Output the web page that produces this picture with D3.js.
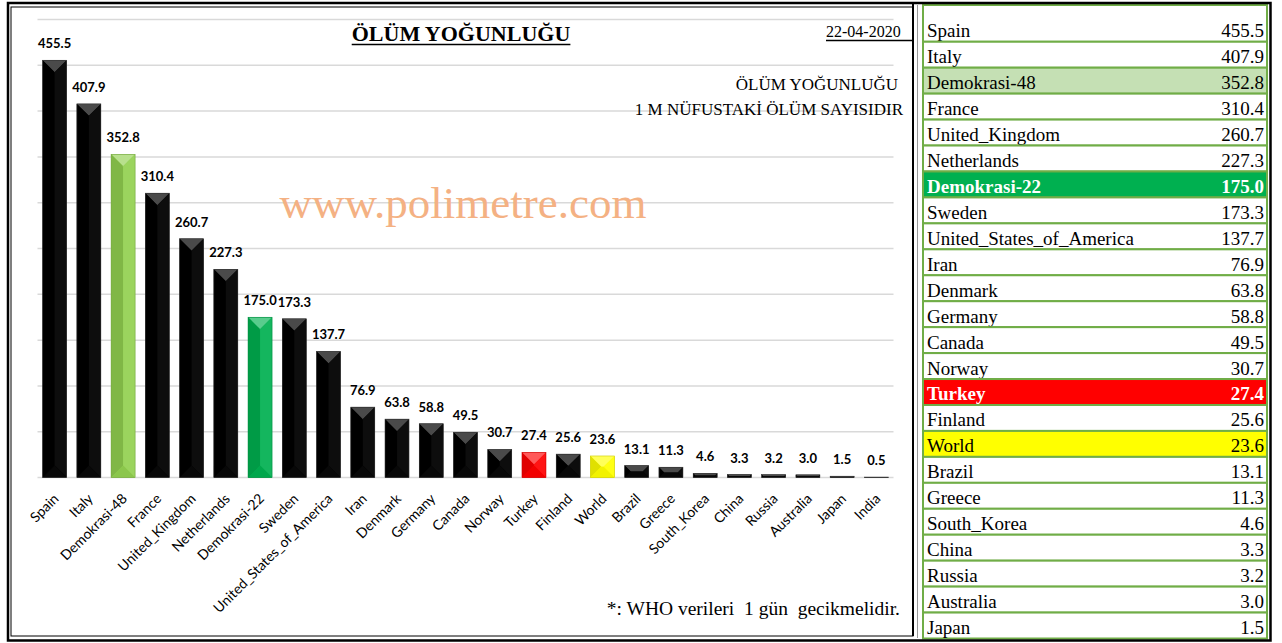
<!DOCTYPE html>
<html>
<head>
  <meta charset="utf-8">
  <script src="https://cdn.jsdelivr.net/npm/d3@7"></script>
  <title>Ölüm yoğunluğu</title>
  <style>
    body { margin: 0; background: #fff; }
    text { white-space: pre; }
  </style>
</head>
<body>
<script>
  // data (deaths per 1M population, 22-04-2020)
  var categories = ["Spain", "Italy", "Demokrasi-48", "France", "United_Kingdom", "Netherlands",
    "Demokrasi-22", "Sweden", "United_States_of_America", "Iran", "Denmark", "Germany", "Canada",
    "Norway", "Turkey", "Finland", "World", "Brazil", "Greece", "South_Korea", "China", "Russia",
    "Australia", "Japan", "India"];
  var values = [455.5, 407.9, 352.8, 310.4, 260.7, 227.3, 175.0, 173.3, 137.7, 76.9, 63.8, 58.8,
    49.5, 30.7, 27.4, 25.6, 23.6, 13.1, 11.3, 4.6, 3.3, 3.2, 3.0, 1.5, 0.5];
  var yTicks = [0, 50, 100, 150, 200, 250, 300, 350, 400, 450, 500];
  var highlightNames = ["Demokrasi-48", "Demokrasi-22", "Turkey", "World"];
  var barColors = ["#92D050", "#00B050", "#FF0000", "#FFFF00"];
  var rowColors = ["#C5E0B4", "#00B050", "#FF0000", "#FFFF00"];
  var rowTextColors = ["#000", "#fff", "#fff", "#000"];
  var rowBold = [false, true, true, false];
  var tableLength = 24; // India is cut off in the table

  var data = categories.map(function(c, i){ return { name: c, value: values[i] }; });

  var width = 1282, height = 643;
  var svg = d3.select("body").append("svg")
      .attr("width", width)
      .attr("height", height);

  var x = d3.scaleBand()
      .domain(categories)
      .range([37.5, 893.5])
      .paddingInner(0.3)
      .paddingOuter(0.15);

  var y = d3.scaleLinear()
      .domain([0, 500])
      .range([477.6, 19.5]);

  function hi(name){ return highlightNames.indexOf(name); }
  function barColor(name){
    var k = hi(name);
    return k < 0 ? "#000000" : barColors[k];
  }

  // gridlines
  svg.append("g").selectAll("line")
      .data(yTicks)
      .enter().append("line")
      .attr("x1", x.range()[0])
      .attr("x2", x.range()[1])
      .attr("y1", function(d){ return y(d); })
      .attr("y2", function(d){ return y(d); })
      .style("stroke", "#d9d9d9")
      .style("stroke-width", 1.5);

  // watermark
  svg.append("text")
      .attr("x", 463)
      .attr("y", 218)
      .attr("text-anchor", "middle")
      .style("font-family", "'Liberation Serif', serif")
      .style("font-size", "45px")
      .style("fill", "#F4B183")
      .text("www.polimetre.com");

  // bars with a bevel: four facets around the edges
  var bars = svg.append("g").selectAll("g")
      .data(data)
      .enter().append("g");

  bars.each(function(d){
    var g = d3.select(this);
    var x0 = x(d.name), w = x.bandwidth();
    var top = y(d.value), bot = y(0), h = bot - top;
    if (h < 0.5) h = 0.5, top = bot - 0.5;
    var dd = Math.min(w, h) / 2;
    var base = barColor(d.name);
    var mix = d3.interpolateRgb(base, "#ffffff");
    var dark = d3.interpolateRgb(base, "#000000");
    var isBlack = hi(d.name) < 0;
    var facets = [
      { pts: [[x0, top], [x0 + w, top], [x0 + w - dd, top + dd], [x0 + dd, top + dd]],
        fill: isBlack ? "#4a4a4a" : mix(0.35) },
      { pts: [[x0, top], [x0 + dd, top + dd], [x0 + dd, bot - dd], [x0, bot]],
        fill: isBlack ? "#000000" : dark(0.12) },
      { pts: [[x0 + w, top], [x0 + w - dd, top + dd], [x0 + w - dd, bot - dd], [x0 + w, bot]],
        fill: isBlack ? "#0d0d0d" : mix(0.08) },
      { pts: [[x0, bot], [x0 + dd, bot - dd], [x0 + w - dd, bot - dd], [x0 + w, bot]],
        fill: isBlack ? "#080808" : dark(0.05) }
    ];
    g.append("rect")
        .attr("x", x0).attr("y", top)
        .attr("width", w).attr("height", h)
        .style("fill", base);
    g.selectAll("polygon")
        .data(facets)
        .enter().append("polygon")
        .attr("points", function(f){ return f.pts.map(function(p){ return p.join(","); }).join(" "); })
        .style("fill", function(f){ return f.fill; });
    g.append("rect")
        .attr("x", x0).attr("y", top)
        .attr("width", w).attr("height", h)
        .style("fill", "none")
        .style("stroke", isBlack ? "#333" : dark(0.2))
        .style("stroke-width", 0.6);
  });

  // value labels
  svg.append("g").selectAll("text")
      .data(data)
      .enter().append("text")
      .attr("x", function(d){ return x(d.name) + x.bandwidth() / 2; })
      .attr("y", function(d){ return y(d.value) - 12; })
      .attr("text-anchor", "middle")
      .style("font-family", "Lato, sans-serif")
      .style("font-weight", "bold")
      .style("font-size", "13px")
      .style("fill", "#000")
      .text(function(d){ return d.value.toFixed(1); });

  // category labels
  svg.append("g").selectAll("text")
      .data(data)
      .enter().append("text")
      .attr("transform", function(d){
        return "translate(" + (x(d.name) + x.bandwidth() / 2 + 5) + "," + (y(0) + 22) + ") rotate(-45)";
      })
      .attr("text-anchor", "end")
      .style("font-family", "Lato, sans-serif")
      .style("font-size", "14px")
      .style("fill", "#000")
      .text(function(d){ return d.name; });

  // title
  var title = svg.append("text")
      .attr("x", 461)
      .attr("y", 41)
      .attr("text-anchor", "middle")
      .style("font-family", "'Liberation Serif', serif")
      .style("font-weight", "bold")
      .style("font-size", "22px")
      .text("ÖLÜM YOĞUNLUĞU");
  var tb = title.node().getBBox();
  svg.append("line")
      .attr("x1", tb.x).attr("x2", tb.x + tb.width)
      .attr("y1", 44.5).attr("y2", 44.5)
      .style("stroke", "#000").style("stroke-width", 1.5);

  // date
  svg.append("text")
      .attr("x", 826)
      .attr("y", 37)
      .style("font-family", "'Liberation Serif', serif")
      .style("font-size", "16px")
      .text("22-04-2020");
  svg.append("line")
      .attr("x1", 826).attr("x2", 913)
      .attr("y1", 40.5).attr("y2", 40.5)
      .style("stroke", "#000").style("stroke-width", 1.5);

  // subtitle
  svg.append("text")
      .attr("x", 898)
      .attr("y", 90)
      .attr("text-anchor", "end")
      .style("font-family", "'Liberation Serif', serif")
      .style("font-size", "17px")
      .text("ÖLÜM YOĞUNLUĞU");
  svg.append("text")
      .attr("x", 903)
      .attr("y", 115)
      .attr("text-anchor", "end")
      .style("font-family", "'Liberation Serif', serif")
      .style("font-size", "17px")
      .text("1 M NÜFUSTAKİ ÖLÜM SAYISIDIR");

  // footnote
  svg.append("text")
      .attr("x", 900)
      .attr("y", 615)
      .attr("text-anchor", "end")
      .style("font-family", "'Liberation Serif', serif")
      .style("font-size", "19.5px")
      .text("*: WHO verileri  1 gün  gecikmelidir.");

  // table on the right
  var tableData = data.slice(0, tableLength);
  var tx0 = 923, tx1 = 1267;
  var rows = d3.scaleBand()
      .domain(tableData.map(function(d){ return d.name; }))
      .range([15.8, 638.5]);

  var trows = svg.append("g").selectAll("g")
      .data(tableData)
      .enter().append("g")
      .attr("transform", function(d){ return "translate(0," + rows(d.name) + ")"; });

  trows.append("rect")
      .attr("x", tx0)
      .attr("y", function(d, i){ return i === 0 ? 5 - rows(d.name) : 0; })
      .attr("width", tx1 - tx0)
      .attr("height", function(d, i){ return i === 0 ? rows(d.name) + rows.bandwidth() - 5 : rows.bandwidth(); })
      .style("fill", function(d){ var k = hi(d.name); return k < 0 ? "#fff" : rowColors[k]; })
      .style("stroke", "#70AD47")
      .style("stroke-width", 2);

  function rowWeight(d){ var k = hi(d.name); return k >= 0 && rowBold[k] ? "bold" : "normal"; }
  function rowFill(d){ var k = hi(d.name); return k < 0 ? "#000" : rowTextColors[k]; }

  trows.append("text")
      .attr("x", tx0 + 4)
      .attr("y", rows.bandwidth() - 4.5)
      .style("font-family", "'Liberation Serif', serif")
      .style("font-size", "19px")
      .style("font-weight", rowWeight)
      .style("fill", rowFill)
      .text(function(d){ return d.name; });

  trows.append("text")
      .attr("x", tx1 - 3)
      .attr("y", rows.bandwidth() - 4.5)
      .attr("text-anchor", "end")
      .style("font-family", "'Liberation Serif', serif")
      .style("font-size", "19px")
      .style("font-weight", rowWeight)
      .style("fill", rowFill)
      .text(function(d){ return d.value.toFixed(1); });

  // frames
  svg.append("rect")
      .attr("x", 11).attr("y", 7)
      .attr("width", 902).attr("height", 629)
      .style("fill", "none").style("stroke", "#000").style("stroke-width", 1);
  svg.append("line")
      .attr("x1", 913).attr("x2", 913).attr("y1", 3).attr("y2", 636)
      .style("stroke", "#000").style("stroke-width", 2);
  svg.append("line")
      .attr("x1", 917.5).attr("x2", 917.5).attr("y1", 5).attr("y2", 638)
      .style("stroke", "#999").style("stroke-width", 1);
  svg.append("rect")
      .attr("x", 8).attr("y", 3)
      .attr("width", 1262.5).attr("height", 637.5)
      .style("fill", "none").style("stroke", "#000").style("stroke-width", 2.5);
</script>
</body>
</html>
